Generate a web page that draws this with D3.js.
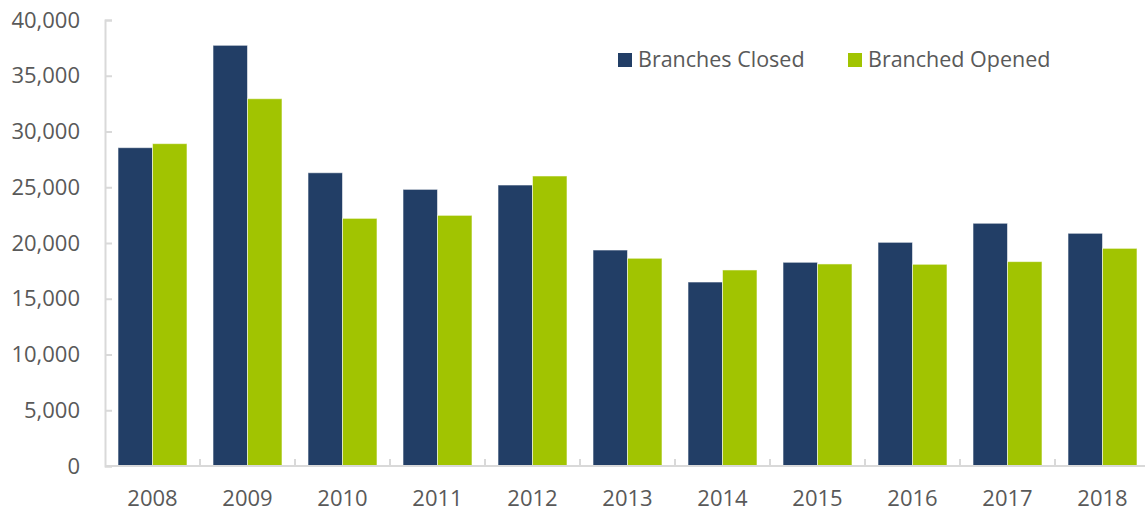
<!DOCTYPE html>
<html>
<head>
<meta charset="utf-8">
<script src="https://d3js.org/d3.v7.min.js"></script>
<style>
  body { margin: 0; background: #fff; }
  text { font-family: "Open Sans", sans-serif; fill: #595959; }
</style>
</head>
<body>
<div id="chart"></div>
<script>
// chart data
var years = ["2008","2009","2010","2011","2012","2013","2014","2015","2016","2017","2018"];
var seriesNames = ["Branches Closed","Branched Opened"];
var branchesClosed = [28550, 37730, 26300, 24810, 25200, 19370, 16500, 18270, 20060, 21770, 20870];
var branchesOpened = [28910, 32940, 22210, 22480, 26010, 18630, 17580, 18120, 18090, 18330, 19520];
var yTicks = [0, 5000, 10000, 15000, 20000, 25000, 30000, 35000, 40000];
var colors = ["#223e66", "#a1c401"];

var width = 1145, height = 513;
var margin = {top: 20, right: -5, bottom: 47, left: 105};
var plotW = width - margin.left - margin.right;
var plotH = height - margin.top - margin.bottom;

var svg = d3.select("#chart").append("svg")
   .attr("width", width).attr("height", height);
var g = svg.append("g")
   .attr("transform", "translate(" + margin.left + "," + margin.top + ")");

var x0 = d3.scaleBand().domain(years).range([0, plotW]).paddingInner(0.274).paddingOuter(0.137);
var x1 = d3.scaleBand().domain(seriesNames).range([0, x0.bandwidth()]);
var y = d3.scaleLinear().domain([0, 40000]).range([plotH, 0]);

var table = years.map(function(yr, i) {
   return {year: yr, values: [branchesClosed[i], branchesOpened[i]]};
});

// bars
var groups = g.selectAll(".grp").data(table).enter().append("g")
   .attr("class", "grp")
   .attr("transform", function(d) { return "translate(" + x0(d.year) + ",0)"; });
groups.selectAll("rect").data(function(d) {
      return d.values.map(function(v, j) { return {name: seriesNames[j], value: v, idx: j}; });
   }).enter().append("rect")
   .attr("x", function(d) { return x1(d.name); })
   .attr("y", function(d) { return y(d.value); })
   .attr("width", x1.bandwidth())
   .attr("height", function(d) { return plotH - y(d.value); })
   .attr("fill", function(d) { return colors[d.idx]; })
   .attr("stroke", "rgba(255,255,255,0.55)")
   .attr("stroke-width", 1);

// y axis
var yAxis = d3.axisLeft(y).tickValues(yTicks).tickSize(-7).tickPadding(25)
   .tickFormat(d3.format(","));
var yg = g.append("g").attr("class", "y-axis").call(yAxis);
yg.select(".domain").attr("stroke", "#d9d9d9").attr("stroke-width", 2);
yg.selectAll(".tick line").attr("stroke", "#d9d9d9").attr("stroke-width", 2);
yg.selectAll(".tick text").style("font-size", "22px").attr("fill", "#595959");

// x axis
var xg = g.append("g").attr("class", "x-axis")
   .attr("transform", "translate(0," + plotH + ")");
xg.append("line").attr("x1", 0).attr("x2", plotW)
   .attr("stroke", "#d9d9d9").attr("stroke-width", 2);
xg.selectAll(".xtick").data(years.slice(1)).enter().append("line")
   .attr("x1", function(d) { return x0(d) - x0.step() * x0.paddingInner() / 2; })
   .attr("x2", function(d) { return x0(d) - x0.step() * x0.paddingInner() / 2; })
   .attr("y1", 0).attr("y2", -7)
   .attr("stroke", "#d9d9d9").attr("stroke-width", 2);
xg.selectAll(".xlabel").data(years).enter().append("text")
   .attr("x", function(d) { return x0(d) + x0.bandwidth() / 2; })
   .attr("y", 40)
   .attr("text-anchor", "middle")
   .style("font-size", "22px")
   .text(function(d) { return d; });

// legend
var legendX = [618, 848];
var legend = svg.append("g").attr("class", "legend");
seriesNames.forEach(function(name, i) {
   legend.append("rect")
      .attr("x", legendX[i]).attr("y", 53)
      .attr("width", 14).attr("height", 14)
      .attr("fill", colors[i]);
   legend.append("text")
      .attr("x", legendX[i] + 20).attr("y", 67)
      .style("font-size", "21.5px")
      .text(name);
});
</script>
</body>
</html>
